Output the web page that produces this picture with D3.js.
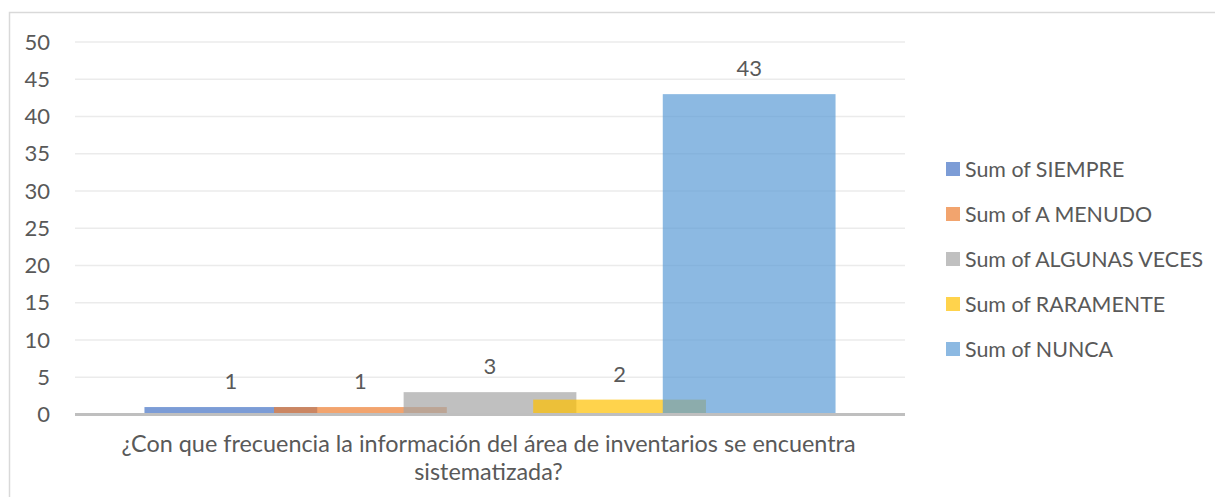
<!DOCTYPE html>
<html>
<head>
<meta charset="utf-8">
<script src="https://cdn.jsdelivr.net/npm/d3@7"></script>
<style>
  body { margin: 0; background: #fff; }
  svg { display: block; font-family: Lato, "Open Sans", sans-serif; }
  .tick text, .label, .legend text, .category { fill: #595959; }
</style>
</head>
<body>
<svg id="chart" width="1215" height="497"></svg>
<script>
  // data
  const seriesNames = ['Sum of SIEMPRE', 'Sum of A MENUDO', 'Sum of ALGUNAS VECES', 'Sum of RARAMENTE', 'Sum of NUNCA'];
  const seriesValues = [1, 1, 3, 2, 43];
  const seriesColors = ['#4472c4', '#ed7d31', '#a5a5a5', '#ffc000', '#5b9bd5'];
  const categoryLines = ['¿Con que frecuencia la información del área de inventarios se encuentra', 'sistematizada?'];
  const yTicks = [0, 5, 10, 15, 20, 25, 30, 35, 40, 45, 50];

  const width = 1215, height = 497;
  const plot = {left: 75, right: 905, top: 42, bottom: 414.5};
  const overlap = 0.25;

  const svg = d3.select('#chart');

  // chart frame
  svg.append('rect')
    .attr('x', 9.5).attr('y', 12.5)
    .attr('width', width + 10).attr('height', height + 10)
    .attr('fill', 'none')
    .attr('stroke', '#d9d9d9')
    .attr('stroke-width', 1.5);

  const y = d3.scaleLinear().domain([0, 50]).range([plot.bottom, plot.top]);

  const x = d3.scaleBand()
    .domain(['cat'])
    .range([plot.left, plot.right])
    .paddingOuter(0.1005);

  // bars overlap each other by 25%
  const n = seriesValues.length;
  const barW = x.bandwidth() / ((n - 1) * (1 - overlap) + 1);
  const step = barW * (1 - overlap);
  const sx = d3.scaleLinear().domain([0, 1]).range([x('cat'), x('cat') + step]);

  // gridlines + tick labels
  const yAxis = d3.axisLeft(y).tickValues(yTicks).tickSize(0).tickPadding(25);
  const ga = svg.append('g')
    .attr('transform', `translate(${plot.left},0)`)
    .call(yAxis);
  ga.select('.domain').remove();
  ga.selectAll('.tick text')
    .attr('font-size', 22)
    .attr('font-family', 'Lato, sans-serif');

  svg.append('g').selectAll('line')
    .data(yTicks.filter(d => d > 0))
    .join('line')
    .attr('x1', plot.left).attr('x2', plot.right)
    .attr('y1', d => y(d)).attr('y2', d => y(d))
    .attr('stroke', '#ebebeb')
    .attr('stroke-width', 1.5);

  // bars
  svg.append('g').selectAll('rect')
    .data(seriesValues)
    .join('rect')
    .attr('x', (d, i) => sx(i))
    .attr('y', d => y(d))
    .attr('width', barW)
    .attr('height', d => y(0) - y(d))
    .attr('fill', (d, i) => seriesColors[i])
    .attr('fill-opacity', 0.7);

  // category axis line
  svg.append('line')
    .attr('x1', plot.left).attr('x2', plot.right)
    .attr('y1', y(0)).attr('y2', y(0))
    .attr('stroke', '#bfbfbf')
    .attr('stroke-width', 2.8);

  // data labels
  svg.append('g').selectAll('text')
    .data(seriesValues)
    .join('text')
    .attr('class', 'label')
    .attr('x', (d, i) => sx(i) + barW / 2)
    .attr('y', d => y(d) - 18)
    .attr('text-anchor', 'middle')
    .attr('font-size', 22)
    .text(d => d);

  // category label
  svg.append('text')
    .attr('class', 'category')
    .attr('text-anchor', 'middle')
    .attr('font-size', 23.4)
    .selectAll('tspan')
    .data(categoryLines)
    .join('tspan')
    .attr('x', x('cat') + x.bandwidth() / 2 - 1.5)
    .attr('y', (d, i) => 451.5 + i * 28)
    .text(d => d);

  // legend
  const legend = svg.append('g').attr('class', 'legend')
    .selectAll('g')
    .data(seriesNames)
    .join('g')
    .attr('transform', (d, i) => `translate(946,${169 + i * 45})`);

  legend.append('rect')
    .attr('x', 0).attr('y', -7)
    .attr('width', 14).attr('height', 14)
    .attr('fill', (d, i) => seriesColors[i])
    .attr('fill-opacity', 0.7);

  legend.append('text')
    .attr('x', 19)
    .attr('dy', '0.36em')
    .attr('font-size', 21.4)
    .text(d => d);
</script>
</body>
</html>
